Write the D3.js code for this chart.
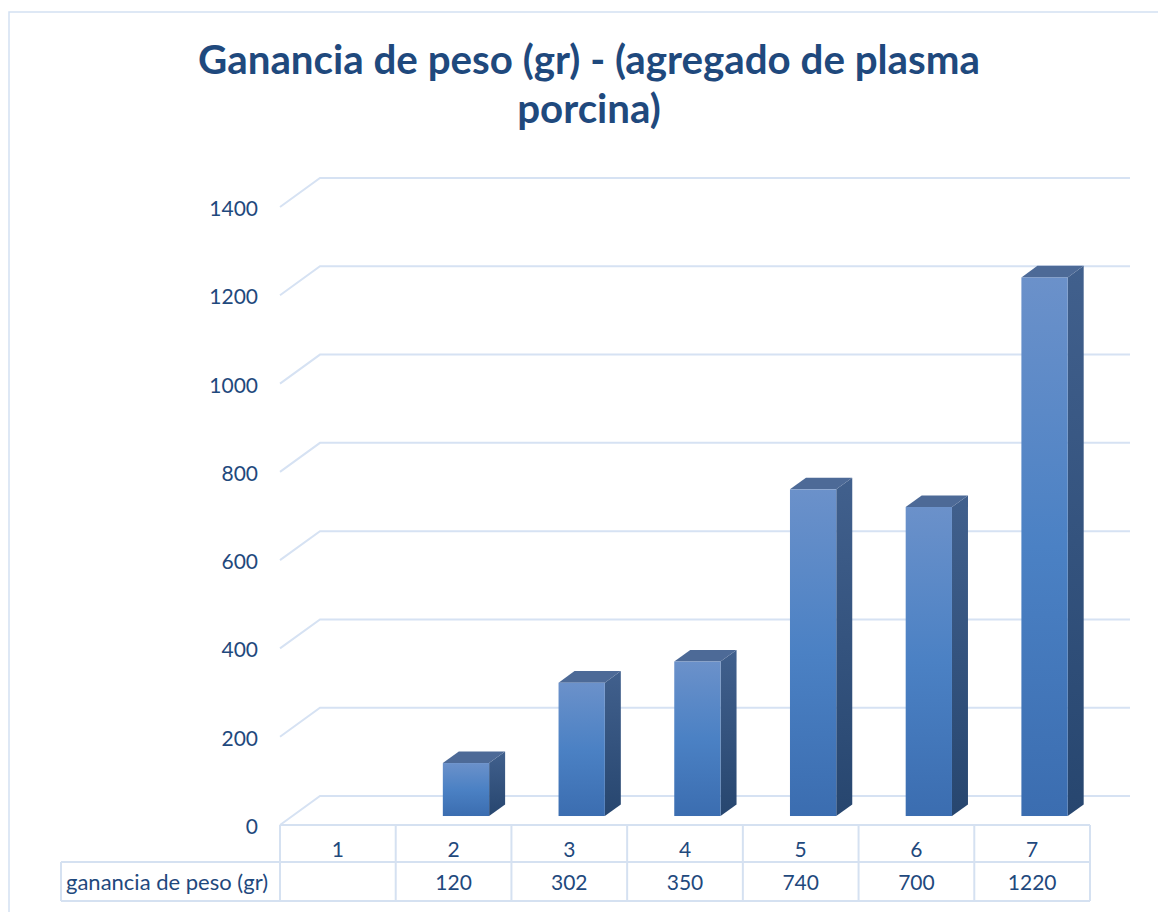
<!DOCTYPE html>
<meta charset="utf-8">
<style>
body { margin: 0; background: #fff; }
text { font-family: Lato, "Noto Sans", sans-serif; fill: #1f497d; }
.title { font-weight: bold; }
.grid path { fill: none; stroke: #d6e2f3; stroke-width: 2px; }
.tbl line { stroke: #d5e1f1; stroke-width: 2px; }
</style>
<body>
<svg width="1158" height="912"></svg>
<script src="https://d3js.org/d3.v7.min.js"></script>
<script>

var titleLines = ["Ganancia de peso (gr) - (agregado de plasma", "porcina)"];
var seriesName = "ganancia de peso (gr)";
var categories = ["1", "2", "3", "4", "5", "6", "7"];
var values = [null, 120, 302, 350, 740, 700, 1220];
var yTicks = [0, 200, 400, 600, 800, 1000, 1200, 1400];

var svg = d3.select("svg");

// depth of the 3d floor, and where the bars sit in it
var depthX = 40, depthY = -29;
var d0 = 0.31, d1 = 0.71;

var x = d3.scaleBand().domain(categories).range([280, 1090]);
var y = d3.scaleLinear().domain([0, 1400]).range([825, 207]);

// chart frame
svg.append("rect")
    .attr("x", 9).attr("y", 12)
    .attr("width", 1170).attr("height", 920)
    .attr("fill", "none")
    .attr("stroke", "#d3e1f2")
    .attr("stroke-width", 1.5);

// title
var title = svg.append("g");
title.selectAll("text")
  .data(titleLines)
  .enter().append("text")
    .attr("class", "title")
    .attr("x", 589)
    .attr("y", function(d, i) { return 74 + i * 49; })
    .attr("text-anchor", "middle")
    .style("font-size", "38px")
    .text(function(d) { return d; });
var w = title.select("text").node().getComputedTextLength();
title.selectAll("text").style("font-size", (38 * 782 / w) + "px");

// gridlines: left wall diagonal + back wall line
var bx = x.range()[1] + depthX;
svg.append("g")
    .attr("class", "grid")
  .selectAll("path")
  .data(yTicks)
  .enter().append("path")
    .attr("d", function(t) {
      var yy = y(t);
      return "M280," + yy + "L" + (280 + depthX) + "," + (yy + depthY) + "L" + bx + "," + (yy + depthY);
    });

// y labels
svg.append("g")
  .selectAll("text")
  .data(yTicks)
  .enter().append("text")
    .attr("x", 258)
    .attr("y", function(t) { return y(t) + 9; })
    .attr("text-anchor", "end")
    .style("font-size", "21px")
    .text(function(t) { return t; });

// gradients
var defs = svg.append("defs");
function grad(id, stops) {
  var g = defs.append("linearGradient").attr("id", id)
      .attr("x1", 0).attr("y1", 0).attr("x2", 0).attr("y2", 1);
  stops.forEach(function(s) {
    g.append("stop").attr("offset", s[0]).attr("stop-color", s[1]);
  });
}
grad("front", [[0, "#6b91ca"], [0.5, "#4b81c4"], [1, "#3b6db0"]]);
grad("side", [[0, "#41608d"], [1, "#27466f"]]);

// bars
var bw = x.bandwidth() * 0.4;
var bars = svg.append("g")
  .selectAll("g")
  .data(categories.map(function(c, i) { return {cat: c, v: values[i]}; })
          .filter(function(d) { return d.v != null; }))
  .enter().append("g");

function fx(d) { return x(d.cat) + x.bandwidth() / 2 - bw / 2 + d0 * depthX; }
function fy(v) { return y(v) + d0 * depthY; }
var sx = (d1 - d0) * depthX, sy = (d1 - d0) * depthY;

bars.append("path")
    .attr("fill", "url(#side)")
    .attr("d", function(d) {
      var x0 = fx(d) + bw, top = fy(d.v), bot = fy(0);
      return "M" + x0 + "," + top + "L" + (x0 + sx) + "," + (top + sy) +
             "L" + (x0 + sx) + "," + (bot + sy) + "L" + x0 + "," + bot + "Z";
    });
bars.append("path")
    .attr("fill", "#4d6a97")
    .attr("d", function(d) {
      var x0 = fx(d), top = fy(d.v);
      return "M" + x0 + "," + top + "L" + (x0 + sx) + "," + (top + sy) +
             "L" + (x0 + bw + sx) + "," + (top + sy) + "L" + (x0 + bw) + "," + top + "Z";
    });
bars.append("rect")
    .attr("fill", "url(#front)")
    .attr("x", fx)
    .attr("y", function(d) { return fy(d.v); })
    .attr("width", bw)
    .attr("height", function(d) { return fy(0) - fy(d.v); });

// data table
var r0 = 825, r1 = 862, r2 = 901, labelX = 61;
var tbl = svg.append("g").attr("class", "tbl");
var x0 = x.range()[0], x1 = x.range()[1];
tbl.append("line").attr("x1", x0).attr("x2", x1).attr("y1", r0).attr("y2", r0);
tbl.append("line").attr("x1", labelX).attr("x2", x1).attr("y1", r1).attr("y2", r1);
tbl.append("line").attr("x1", labelX).attr("x2", x1).attr("y1", r2).attr("y2", r2);
tbl.append("line").attr("x1", labelX).attr("x2", labelX).attr("y1", r1).attr("y2", r2);
tbl.selectAll("line.v")
  .data(categories.concat([null]))
  .enter().append("line")
    .attr("class", "v")
    .attr("x1", function(c) { return c == null ? x1 : x(c); })
    .attr("x2", function(c) { return c == null ? x1 : x(c); })
    .attr("y1", r0).attr("y2", r2);

svg.append("text")
    .attr("x", 66).attr("y", 890)
    .style("font-size", "22px")
    .text(seriesName);

svg.append("g")
  .selectAll("text")
  .data(categories)
  .enter().append("text")
    .attr("x", function(c) { return x(c) + x.bandwidth() / 2; })
    .attr("y", 857)
    .attr("text-anchor", "middle")
    .style("font-size", "21px")
    .text(function(c) { return c; });

svg.append("g")
  .selectAll("text")
  .data(values)
  .enter().append("text")
    .attr("x", function(v, i) { return x(categories[i]) + x.bandwidth() / 2; })
    .attr("y", 890)
    .attr("text-anchor", "middle")
    .style("font-size", "21px")
    .text(function(v) { return v == null ? "" : v; });

</script>
</body>
